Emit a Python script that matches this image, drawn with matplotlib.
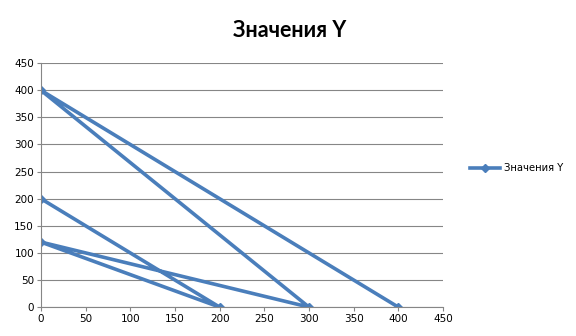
import matplotlib
matplotlib.use("Agg")
import matplotlib.pyplot as plt

# path of the single series, in drawing order
x_values = [400, 0, 300, 0, 200, 0]
y_values = [0, 400, 0, 120, 0, 200]
series_name = "Значения Y"
ticks = [0, 50, 100, 150, 200, 250, 300, 350, 400, 450]

plt.rcParams['font.family'] = ['DejaVu Sans']

fig = plt.figure(figsize=(5.76, 3.36), dpi=100)
ax = fig.add_axes([0.071, 0.086, 0.698, 0.726])

ax.plot(x_values, y_values, color='#4A7EBB', linewidth=2.6,
        marker='D', markersize=4, label=series_name)

ax.set_xlim(0, 450)
ax.set_ylim(0, 450)
ax.set_xticks(ticks)
ax.set_yticks(ticks)
ax.tick_params(labelsize=7.5, length=3, color='#868686', pad=2)
ax.yaxis.grid(True, color='#868686', linewidth=0.8)
ax.set_axisbelow(True)
for side in ['top', 'right']:
    ax.spines[side].set_visible(False)
for side in ['left', 'bottom']:
    ax.spines[side].set_color('#868686')
    ax.spines[side].set_linewidth(0.8)

fig.text(0.502, 0.91, series_name, ha='center', va='center',
         fontsize=15.5, fontweight='bold', family='Lato')

fig.legend(loc='center left', bbox_to_anchor=(0.8, 0.5), frameon=False,
           fontsize=7.2, handlelength=3, handletextpad=0.4)

fig.savefig("out.png", dpi=100)
